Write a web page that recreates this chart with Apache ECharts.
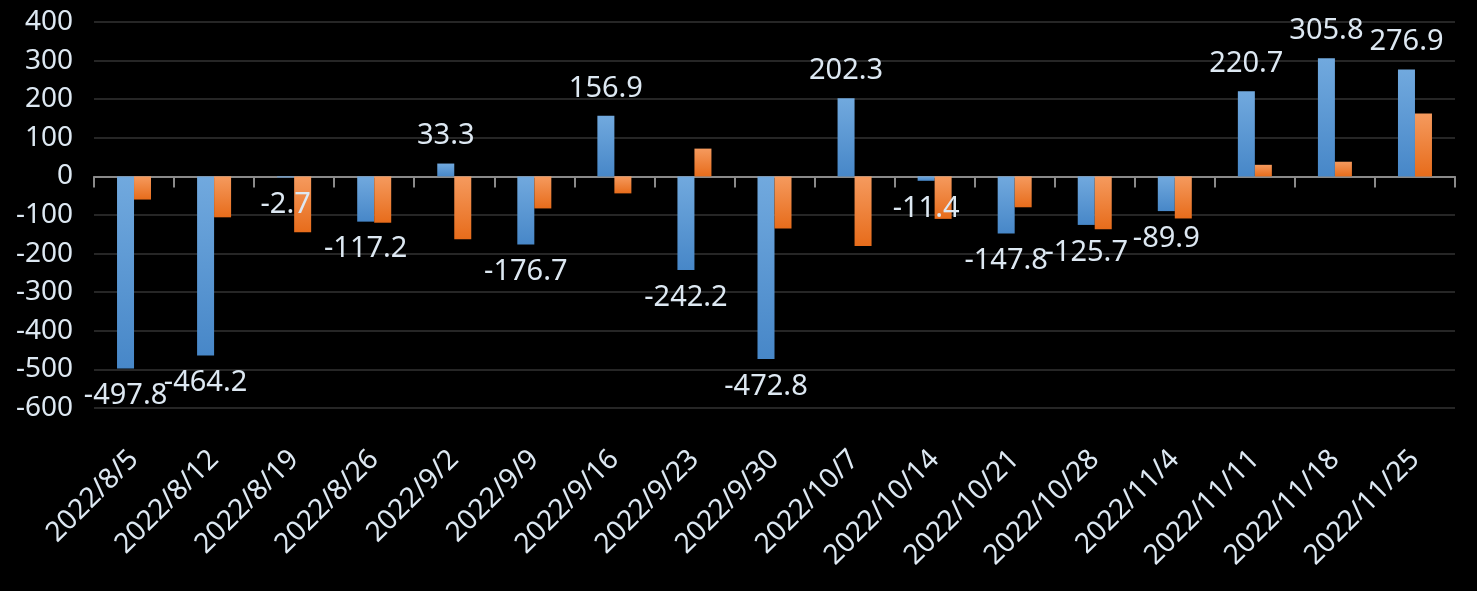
<!DOCTYPE html>
<html>
<head>
<meta charset="utf-8">
<script src="https://cdn.jsdelivr.net/npm/echarts@6/dist/echarts.min.js"></script>
<style>
html,body{margin:0;padding:0;background:#000;}
#c{width:1477px;height:591px;}
</style>
</head>
<body>
<div id="c"></div>
<script>
var categories = ['2022/8/5','2022/8/12','2022/8/19','2022/8/26','2022/9/2','2022/9/9','2022/9/16','2022/9/23','2022/9/30','2022/10/7','2022/10/14','2022/10/21','2022/10/28','2022/11/4','2022/11/11','2022/11/18','2022/11/25'];
var blueValues = [-497.8,-464.2,-2.7,-117.2,33.3,-176.7,156.9,-242.2,-472.8,202.3,-11.4,-147.8,-125.7,-89.9,220.7,305.8,276.9];
var orangeValues = [-60,-106,-145,-120,-163,-83,-44,72,-135,-180,-110,-80,-137,-109,30,38,163];
var yMin = -600, yMax = 400, yStep = 100;

var textColor = '#dde8f2';
var font = '"Noto Sans", "Open Sans", sans-serif';

function grad(top, bottom){
  return new echarts.graphic.LinearGradient(0,0,0,1,[{offset:0,color:top},{offset:1,color:bottom}]);
}

var chart = echarts.init(document.getElementById('c'));
chart.setOption({
  backgroundColor:'#000',
  animation:false,
  grid:{left:94,right:22,top:22,bottom:183},
  xAxis:[{
    type:'category',
    data:categories,
    position:'bottom',
    axisLine:{show:true,onZero:true,lineStyle:{color:'#8a8a8a',width:2}},
    axisTick:{show:true,length:11,lineStyle:{color:'#8a8a8a',width:2}},
    axisLabel:{show:false},
    splitLine:{show:false}
  },{
    type:'category',
    data:categories,
    position:'bottom',
    axisLine:{show:false,onZero:false},
    axisTick:{show:false},
    axisLabel:{show:true,rotate:45,margin:47,color:textColor,fontSize:28,fontFamily:font,interval:0},
    splitLine:{show:false}
  }],
  yAxis:{
    type:'value',
    min:yMin,max:yMax,interval:yStep,
    axisLine:{show:false},
    axisTick:{show:false},
    axisLabel:{color:textColor,fontSize:28,fontFamily:font,margin:21},
    splitLine:{lineStyle:{color:'#262626',width:2}}
  },
  series:[{
    type:'bar',
    data:blueValues.map(function(v){
      return {value:v,label:{position:v<0?'bottom':'top'}};
    }),
    xAxisIndex:0,
    barWidth:17,
    barGap:'0%',
    itemStyle:{color:grad('#71a9de','#4787c8')},
    label:{show:true,distance:13,color:textColor,fontSize:29,fontFamily:font},
    labelLayout:{hideOverlap:false}
  },{
    type:'bar',
    data:orangeValues,
    xAxisIndex:0,
    barWidth:17,
    barGap:'0%',
    itemStyle:{color:grad('#f59a5e','#e76c1b')}
  }]
});
</script>
</body>
</html>
